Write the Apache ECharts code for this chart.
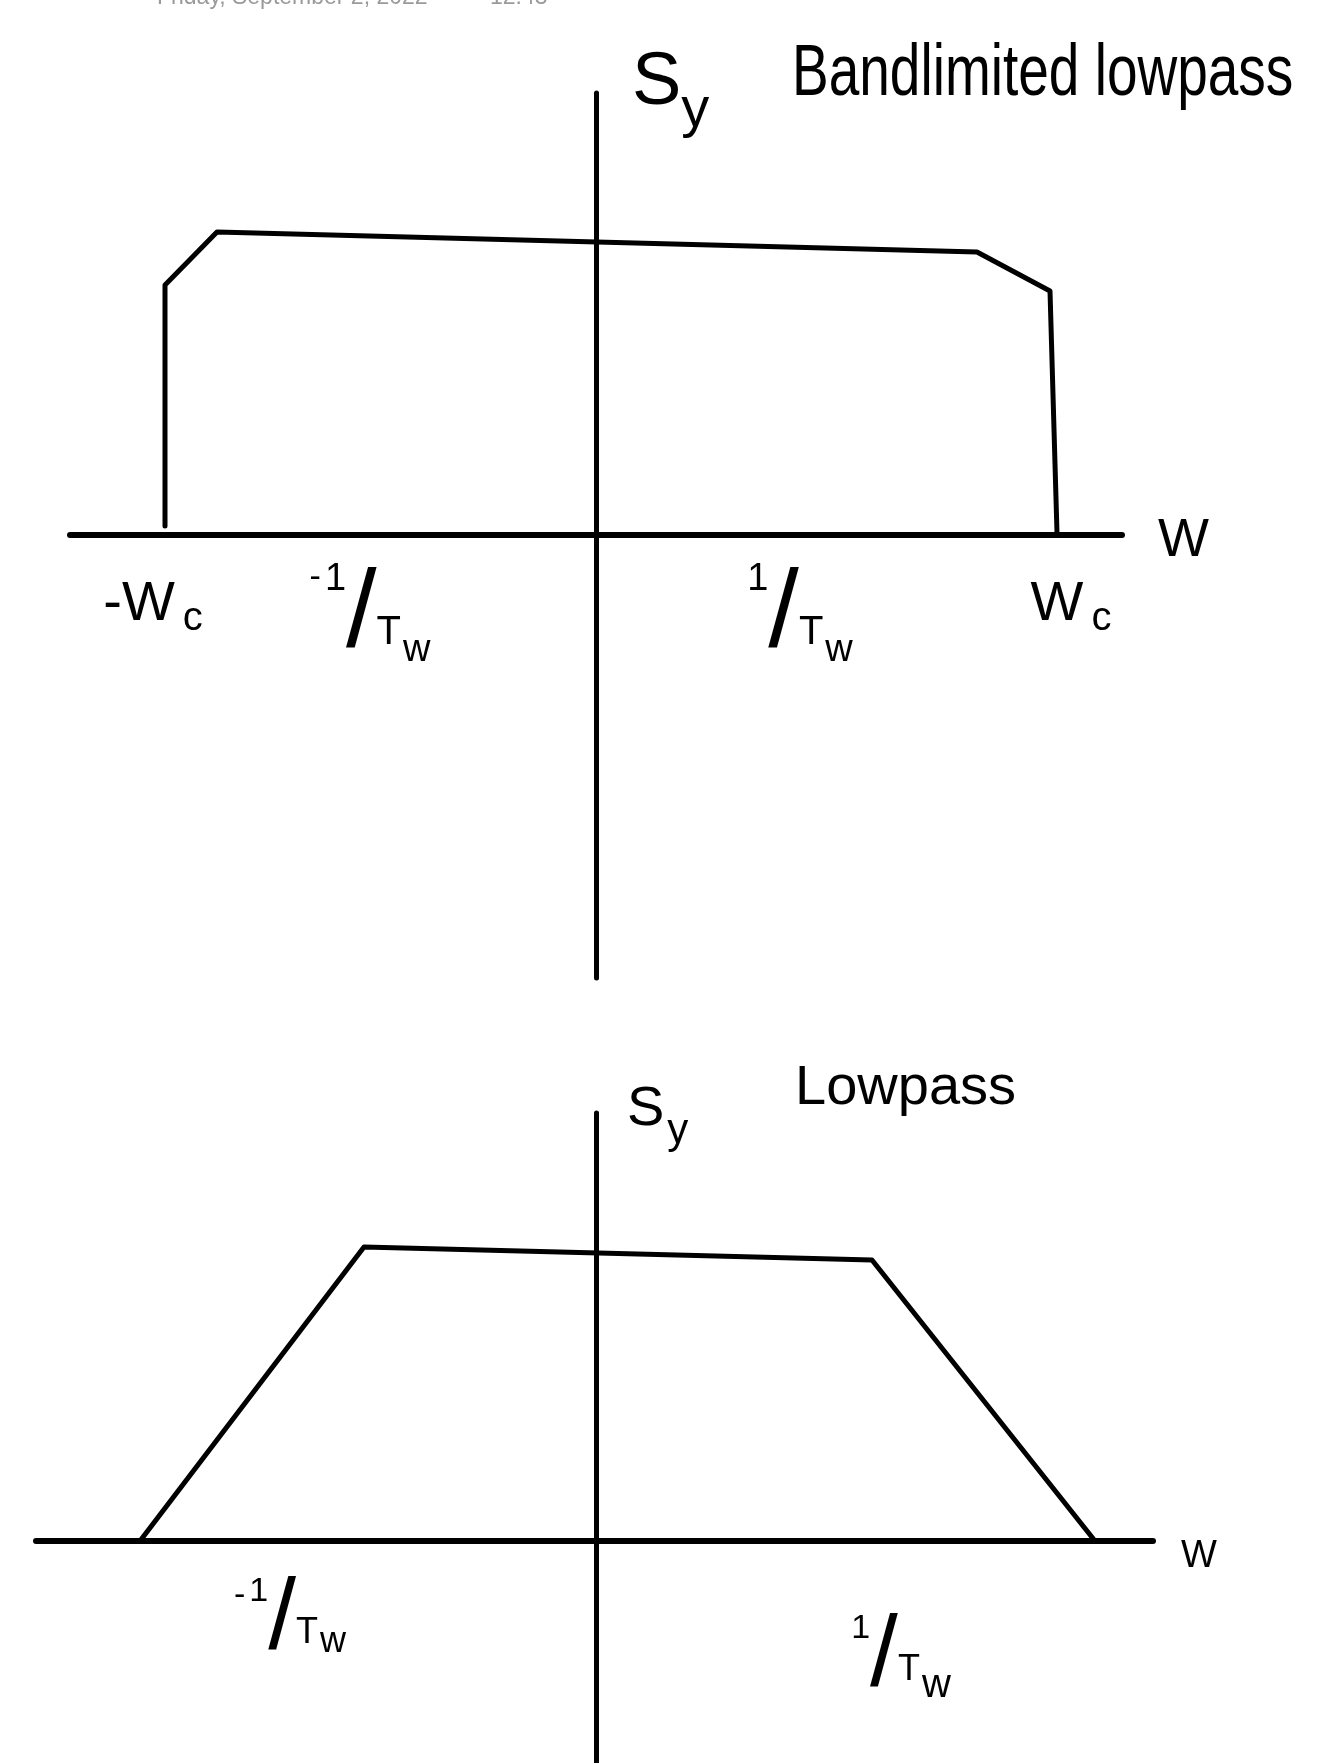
<!DOCTYPE html>
<html>
<head>
<meta charset="utf-8">
<script src="https://cdn.jsdelivr.net/npm/echarts@6/dist/echarts.min.js"></script>
<style>
  html, body { margin: 0; padding: 0; background: #ffffff; }
  #chart { width: 1326px; height: 1763px; }
</style>
</head>
<body>
<div id="chart"></div>
<script>
// ---- Data (arbitrary frequency / amplitude units) ----
// Top panel: band-limited lowpass S_Y(W)
const topX = [-4.31, -4.31, -3.79, 3.81, 4.54, 4.61];
const topY = [0.09, 2.50, 3.03, 2.83, 2.44, 0.02];
// Bottom panel: lowpass S_Y(W)
const bottomX = [-4.56, -2.32, 2.76, 4.99];
const bottomY = [0.0, 2.94, 2.81, 0.0];

// Tick label positions and texts
const topTickValues = [-4.43, -2.26, 2.02, 4.75];
const topTickLabels = ['-W_c', '-1/T_w', '1/T_w', 'W_c'];
const bottomTickValues = [-3.06, 3.03];
const bottomTickLabels = ['-1/T_w', '1/T_w'];

// Titles and axis names
const topTitle = 'Bandlimited lowpass';
const bottomTitle = 'Lowpass';
const axisName = 'W';
const yName = ['S', 'y'];
const headerDate = 'Friday, September 2, 2022';
const headerTime = '12:43';

const FONT = '"Liberation Sans", "DejaVu Sans", sans-serif';

function toPairs(xs, ys) { return xs.map((x, i) => [x, ys[i]]); }

// convert "A/B_c" or "A_c" strings to rich-text tokens (k = style-set suffix)
function richLabel(txt, k) {
  if (txt.indexOf('/') >= 0) {
    const neg = txt[0] === '-';
    const body = neg ? txt.slice(1) : txt;
    const num = body.split('/')[0];
    const den = body.split('/')[1].split('_');
    return (neg ? '{dash' + k + '|-}' : '') + '{num' + k + '|' + num + '}{sl' + k + '|/}{den' + k + '|' + den[0] + '}{sub' + k + '|' + den[1] + '}';
  }
  const parts = txt.split('_');
  return '{big' + k + '|' + parts[0] + '}{low' + k + '|' + parts[1] + '}';
}

function tok(fontSize, padTop, padLeft) {
  return { fontSize: fontSize, fontFamily: FONT, fontWeight: 'normal', color: '#000', verticalAlign: 'top', padding: [padTop, 0, 0, padLeft || 0] };
}

function styleSet(k, o) {
  const r = {};
  r['dash' + k] = tok(o.fDash, o.base + o.pDash, 0);
  r['num' + k] = tok(o.fNum, o.base + o.pNum, 4);
  r['sl' + k] = tok(o.fSl, o.base + o.pSl, 0);
  r['den' + k] = tok(o.fDen, o.base + o.pDen, 0);
  r['sub' + k] = tok(o.fSub, o.base + o.pSub, 2);
  r['big' + k] = tok(o.fBig || 56, o.base + (o.pBig || 0), 0);
  r['low' + k] = tok(o.fLow || 40, o.base + (o.pLow || 0), 8);
  return r;
}

const topRich = styleSet('', {
  base: 0, fDash: 34, pDash: 0, fNum: 38, pNum: 0, fSl: 110, pSl: 0,
  fDen: 40, pDen: 52, fSub: 38, pSub: 71, fBig: 56, pBig: 16, fLow: 40, pLow: 38
});
const bottomRich = Object.assign(
  styleSet('a', { base: 0, fDash: 34, pDash: 8, fNum: 34, pNum: 4, fSl: 100, pSl: 0, fDen: 36, pDen: 44, fSub: 36, pSub: 53 }),
  styleSet('b', { base: 37, fDash: 34, pDash: 8, fNum: 34, pNum: 4, fSl: 100, pSl: 0, fDen: 36, pDen: 44, fSub: 40, pSub: 58 })
);

const axisLineStyle = { color: '#000', width: 6, cap: 'round' };
const shapeLine = { color: '#000', width: 5, cap: 'round', join: 'round' };

const chart = echarts.init(document.getElementById('chart'), null, { renderer: 'canvas' });

const option = {
  backgroundColor: '#ffffff',
  animation: false,
  title: [
    {
      text: '{m|' + yName[0] + '}{s|' + yName[1] + '}',
      left: 627, top: 42,
      textStyle: { rich: { m: tok(74, 0, 0), s: tok(56, 36, 0) } }
    },
    {
      text: '{m|' + yName[0] + '}{s|' + yName[1] + '}',
      left: 622, top: 1077,
      textStyle: { rich: { m: tok(56, 0, 0), s: tok(42, 28, 3) } }
    },
    {
      text: bottomTitle,
      left: 790, top: 1056,
      textStyle: { fontSize: 56, fontWeight: 'normal', fontFamily: FONT, color: '#000' }
    }
  ],
  graphic: [
    { type: 'text', x: 792, y: 39, scaleY: 1.32, style: { text: topTitle, fontSize: 55, fontFamily: FONT, fill: '#000', verticalAlign: 'top' } },
    { type: 'text', left: 157, top: -14, style: { text: headerDate, fontSize: 23, fontFamily: FONT, fill: '#9a9a9a' } },
    { type: 'text', left: 490, top: -14, style: { text: headerTime, fontSize: 23, fontFamily: FONT, fill: '#9a9a9a' } }
  ],
  grid: [
    { left: 70, top: 93, width: 1052, height: 885, outerBoundsMode: 'none', containLabel: false },
    { left: 36, top: 1113, width: 1117, height: 650, outerBoundsMode: 'none', containLabel: false }
  ],
  xAxis: [
    {
      type: 'value', gridIndex: 0, min: -5.26, max: 5.26,
      position: 'bottom', offset: -443,
      name: '{n|' + axisName + '}', nameLocation: 'end', nameGap: 36,
      nameTextStyle: { verticalAlign: 'middle', rich: { n: tok(54, 12, 0) } },
      axisLine: { show: true, onZero: false, lineStyle: axisLineStyle },
      axisTick: { show: false },
      splitLine: { show: false },
      axisLabel: {
        show: true, margin: 26, customValues: topTickValues,
        formatter: function (v) { const i = topTickValues.indexOf(v); return i >= 0 ? richLabel(topTickLabels[i], '') : ''; },
        rich: topRich
      }
    },
    {
      type: 'value', gridIndex: 1, min: -5.60, max: 5.57,
      position: 'bottom', offset: -222,
      name: '{n|' + axisName + '}', nameLocation: 'end', nameGap: 28,
      nameTextStyle: { verticalAlign: 'middle', rich: { n: tok(38, 32, 0) } },
      axisLine: { show: true, onZero: false, lineStyle: axisLineStyle },
      axisTick: { show: false },
      splitLine: { show: false },
      axisLabel: {
        show: true, margin: 30, customValues: bottomTickValues,
        formatter: function (v) { const i = bottomTickValues.indexOf(v); return i >= 0 ? richLabel(bottomTickLabels[i], i === 0 ? 'a' : 'b') : ''; },
        rich: bottomRich
      }
    }
  ],
  yAxis: [
    {
      type: 'value', gridIndex: 0, min: -4.43, max: 4.42,
      axisLine: { show: true, onZero: true, lineStyle: { color: '#000', width: 5, cap: 'round' } },
      axisTick: { show: false }, axisLabel: { show: false }, splitLine: { show: false }
    },
    {
      type: 'value', gridIndex: 1, min: -2.22, max: 4.28,
      axisLine: { show: true, onZero: true, lineStyle: { color: '#000', width: 5, cap: 'round' } },
      axisTick: { show: false }, axisLabel: { show: false }, splitLine: { show: false }
    }
  ],
  series: [
    {
      type: 'line', xAxisIndex: 0, yAxisIndex: 0,
      data: toPairs(topX, topY), symbol: 'none', silent: true,
      lineStyle: shapeLine
    },
    {
      type: 'line', xAxisIndex: 1, yAxisIndex: 1,
      data: toPairs(bottomX, bottomY), symbol: 'none', silent: true,
      lineStyle: shapeLine
    }
  ]
};

chart.setOption(option);
</script>
</body>
</html>
